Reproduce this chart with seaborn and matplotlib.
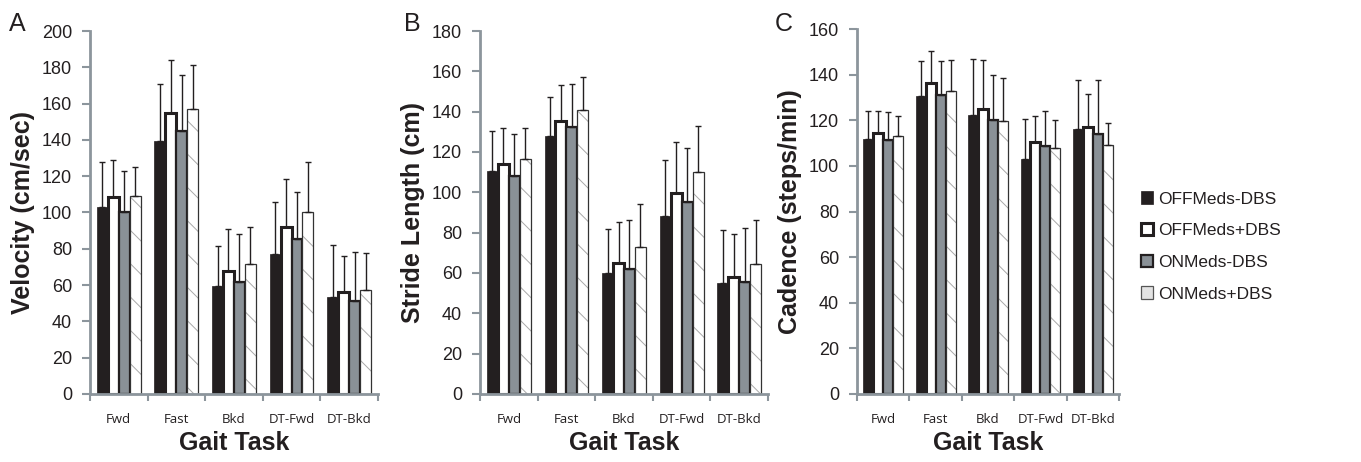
import numpy as np
import pandas as pd
import matplotlib as mpl
mpl.use('Agg')
import matplotlib.pyplot as plt
import seaborn as sns

sns.set_style('ticks')
plt.rcParams['font.family'] = ['Liberation Sans', 'DejaVu Sans']
plt.rcParams['hatch.linewidth'] = 0.7

tasks = ['Fwd', 'Fast', 'Bkd', 'DT-Fwd', 'DT-Bkd']
conditions = ['OFFMeds-DBS', 'OFFMeds+DBS', 'ONMeds-DBS', 'ONMeds+DBS']

# means, one list per condition (task order as above)
vel_off_nodbs = [103, 139.5, 59.5, 77, 53.5]
vel_off_dbs = [108.5, 155, 67.5, 92, 56]
vel_on_nodbs = [100.5, 145, 61.5, 85.5, 51.5]
vel_on_dbs = [109, 157, 71.5, 100, 57.5]
vel_sd = [[25, 31.5, 22, 29, 28.5],
          [20.5, 29, 23.5, 26.5, 20],
          [22.5, 30.5, 26.5, 26, 26.5],
          [16, 24.5, 20.5, 28, 20]]

sl_off_nodbs = [110.5, 128, 60, 88.5, 55]
sl_off_dbs = [114, 135.5, 65, 99.5, 58]
sl_on_nodbs = [108, 132.5, 62, 95, 55.5]
sl_on_dbs = [116.5, 141, 73, 110, 64.5]
sl_sd = [[20, 19.5, 22, 27.5, 26.5],
         [18, 17.5, 20.5, 25.5, 21.5],
         [21, 21, 24.5, 27, 27],
         [15.5, 16, 21, 23, 22]]

cad_off_nodbs = [112, 130.5, 122.5, 103, 116]
cad_off_dbs = [114.5, 136.5, 125, 110.5, 117]
cad_on_nodbs = [111.5, 131, 120, 108.5, 114]
cad_on_dbs = [113, 133, 119.5, 108, 109]
cad_sd = [[12, 15.5, 24.5, 17.5, 21.5],
          [9.5, 14, 21.5, 11.5, 14.5],
          [12, 15, 20, 15.5, 23.5],
          [9, 13.5, 19, 12, 10]]

axis_grey = '#8c959c'
ink = '#231f20'
palette = {'OFFMeds-DBS': ink, 'OFFMeds+DBS': 'white',
           'ONMeds-DBS': '#8a9197', 'ONMeds+DBS': 'white'}
edge_w = [0.5, 2.2, 1.6, 0.9]


def long_df(series):
    rows = []
    for cond, vals in zip(conditions, series):
        for t, v in zip(tasks, vals):
            rows.append({'task': t, 'condition': cond, 'value': v})
    return pd.DataFrame(rows)


def panel(ax, series, sd, ylabel, ymax):
    df = long_df(series)
    sns.barplot(data=df, x='task', y='value', hue='condition', order=tasks,
                hue_order=conditions, palette=palette, saturation=1,
                width=0.76, errorbar=None, legend=False, ax=ax)
    bars = list(ax.containers)
    for i, cont in enumerate(bars):
        for j, p in enumerate(cont.patches):
            p.set_edgecolor(ink if i < 3 else '#333333')
            p.set_linewidth(edge_w[i])
            if i == 3:
                p.set_hatch('\\')
                p._hatch_color = mpl.colors.to_rgba('#a9a9a9')  # lighter hatch than edge
            x = p.get_x() + p.get_width() / 2
            ax.errorbar(x, p.get_height(), yerr=[[0], [sd[i][j]]], fmt='none',
                        ecolor=ink, elinewidth=1, capsize=2.5, capthick=1, zorder=1)
    ax.set_xlim(-0.5, 4.5)
    ax.set_ylim(0, ymax)
    ax.set_yticks(np.arange(0, ymax + 1, 20))
    ax.set_xticks(np.arange(-0.5, 5, 1), minor=True)
    ax.tick_params(axis='x', which='major', length=0, pad=14)
    ax.tick_params(axis='x', which='minor', length=5, width=1.5, color=axis_grey)
    ax.tick_params(axis='y', length=6, width=1.5, color=axis_grey,
                   labelsize=13, labelcolor=ink, pad=7)
    for lab in ax.get_xticklabels():
        lab.set_fontfamily('Open Sans')
        lab.set_fontsize(9.5)
        lab.set_color(ink)
    sns.despine(ax=ax)
    for s in ['left', 'bottom']:
        ax.spines[s].set_color(axis_grey)
        ax.spines[s].set_linewidth(2)
    ax.set_ylabel(ylabel, fontsize=18, fontweight='bold', color=ink, labelpad=5)
    ax.set_xlabel('Gait Task', fontsize=18, fontweight='bold', color=ink, labelpad=3)
    return bars


fig = plt.figure(figsize=(13.61, 4.62), dpi=100)
ax_a = fig.add_axes([0.0661, 0.1472, 0.2116, 0.7857])
ax_b = fig.add_axes([0.3527, 0.1472, 0.2116, 0.7857])
ax_c = fig.add_axes([0.6297, 0.1472, 0.1925, 0.7900])

panel(ax_a, [vel_off_nodbs, vel_off_dbs, vel_on_nodbs, vel_on_dbs], vel_sd,
      'Velocity (cm/sec)', 200)
panel(ax_b, [sl_off_nodbs, sl_off_dbs, sl_on_nodbs, sl_on_dbs], sl_sd,
      'Stride Length (cm)', 180)
bars_c = panel(ax_c, [cad_off_nodbs, cad_off_dbs, cad_on_nodbs, cad_on_dbs], cad_sd,
               'Cadence (steps/min)', 160)

for letter, xf in zip(['A', 'B', 'C'], [0.0066, 0.2965, 0.5690]):
    fig.text(xf, 0.948, letter, fontsize=18, color=ink, ha='left', va='center')

handles = [c.patches[0] for c in bars_c]
leg = fig.legend(handles, conditions, loc='center left', bbox_to_anchor=(0.827, 0.4665),
                 frameon=False, fontsize=12.5, handlelength=0.7, handleheight=0.7,
                 handletextpad=0.25, labelspacing=0.95, labelcolor=ink)
# the hatched key reads as a pale grey square in the original
leg.legend_handles[3].set_facecolor('#e3e3e3')
leg.legend_handles[3].set_edgecolor('#555555')

fig.savefig('out.png', dpi=100)
